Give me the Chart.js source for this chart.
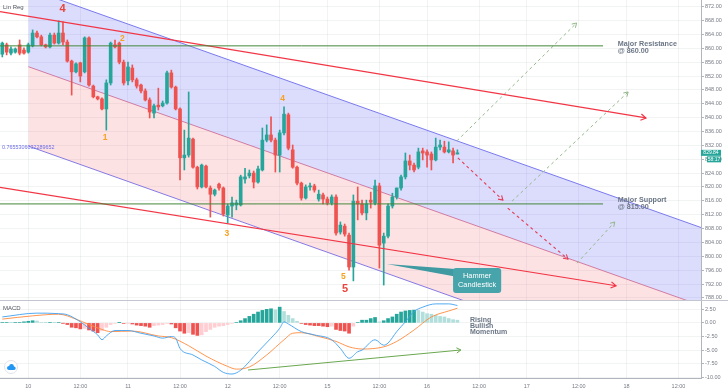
<!DOCTYPE html>
<html>
<head>
<meta charset="utf-8">
<script src="https://cdn.jsdelivr.net/npm/chart.js@4.4.0/dist/chart.umd.min.js"></script>
<style>
  html, body { margin: 0; padding: 0; background: #fff; }
  #wrap { position: relative; width: 728px; height: 391px; overflow: hidden; }
  canvas { position: absolute; left: 0; }
  #priceChart { top: 0; }
  #macdChart { top: 300px; }
</style>
</head>
<body>
<div id="wrap">
  <canvas id="priceChart" width="728" height="301"></canvas>
  <canvas id="macdChart" width="728" height="91"></canvas>
</div>
<script>
// hourly candles, index 0 = day "10" 00:00, 23 candles per session day
const firstIndex = -6;
const candleOpen = [
  858.3, 861.0, 858.6, 858.9, 861.0, 859.5,
  858.9, 860.7, 864.4, 863.3, 861.0, 860.4, 863.8, 861.5, 864.4, 861.8,
  856.3, 853.2, 855.8, 853.2, 863.0, 849.1, 846.0, 845.4, 842.5, 850.0,
  861.0, 861.5, 856.0, 850.6, 854.3, 850.9, 849.4, 847.7, 845.1, 841.3,
  843.6, 843.4, 844.2, 852.9, 848.8, 842.5, 828.4, 829.2, 833.8, 825.7,
  820.0, 826.0, 819.7, 817.9, 820.8, 819.7, 811.9, 814.5, 814.8, 814.8,
  822.3, 823.2, 824.0, 821.4, 824.9, 833.5, 835.0, 833.5, 829.2, 835.6,
  840.8, 830.7, 825.7, 821.1, 816.8, 820.0, 820.3, 816.5, 817.7, 816.5,
  815.4, 817.1, 807.0, 808.7, 806.1, 796.9, 815.9, 815.1, 812.5, 816.2,
  815.4, 820.3, 803.8, 805.8, 814.5, 817.1, 819.7, 822.9, 827.5, 826.3,
  825.7, 830.4, 830.1, 829.5, 827.8, 831.5, 831.5, 830.1, 830.4, 829.5
];
const candleHigh = [
  861.8, 861.5, 860.4, 860.1, 862.4, 860.1,
  861.5, 865.3, 865.0, 863.8, 861.2, 864.4, 864.4, 867.9, 867.6, 862.4,
  856.6, 855.8, 856.0, 863.3, 863.3, 849.4, 846.2, 845.7, 850.9, 861.8,
  862.4, 861.8, 856.6, 856.0, 855.2, 851.4, 849.7, 848.3, 845.7, 843.9,
  848.5, 844.8, 853.4, 853.7, 849.1, 842.8, 836.4, 847.4, 834.1, 826.0,
  826.6, 826.3, 820.3, 819.4, 821.1, 820.0, 815.1, 817.1, 816.2, 823.4,
  825.4, 824.9, 824.6, 826.0, 837.0, 837.9, 840.2, 834.1, 836.4, 843.1,
  841.3, 832.1, 826.0, 821.4, 820.6, 821.1, 820.8, 819.1, 818.2, 817.1,
  817.7, 817.7, 809.9, 809.3, 806.7, 817.7, 820.0, 816.2, 816.2, 818.5,
  822.0, 821.1, 806.7, 815.1, 818.2, 819.7, 823.4, 829.8, 829.2, 826.9,
  831.2, 831.2, 830.7, 830.1, 834.1, 833.5, 833.2, 833.0, 831.2, 830.7
];
const candleLow = [
  857.5, 858.1, 858.1, 858.6, 858.1, 858.3,
  858.6, 860.4, 863.0, 860.7, 860.1, 860.1, 861.2, 861.2, 861.0, 856.0,
  846.5, 852.9, 850.3, 852.9, 849.1, 845.7, 845.1, 842.2, 836.4, 849.4,
  860.1, 855.5, 849.4, 849.4, 850.3, 848.5, 847.1, 844.8, 839.9, 839.9,
  842.2, 843.1, 843.9, 848.5, 842.2, 822.0, 824.9, 828.6, 825.4, 819.4,
  819.7, 819.7, 811.3, 817.4, 819.1, 811.6, 809.6, 811.3, 813.4, 814.5,
  821.1, 822.6, 819.7, 821.1, 824.6, 833.0, 833.0, 824.3, 824.3, 835.0,
  830.7, 825.4, 820.6, 816.2, 816.5, 819.1, 818.5, 815.9, 815.1, 814.8,
  814.8, 806.1, 806.4, 805.8, 796.0, 792.9, 810.5, 811.9, 810.5, 813.9,
  814.8, 796.6, 791.7, 805.3, 813.9, 816.5, 819.1, 822.3, 824.9, 824.3,
  825.2, 827.8, 825.7, 824.9, 827.5, 830.7, 829.8, 829.8, 826.9, 829.5
];
const candleClose = [
  861.5, 858.9, 859.8, 859.8, 858.6, 858.6,
  861.0, 864.4, 863.3, 861.0, 860.4, 863.8, 861.5, 864.4, 861.8, 856.3,
  853.2, 855.5, 852.0, 863.0, 849.4, 846.0, 845.4, 842.5, 850.0, 861.5,
  860.4, 856.0, 850.0, 854.6, 850.9, 849.1, 847.7, 845.1, 841.6, 843.4,
  843.1, 844.2, 852.9, 848.8, 842.5, 828.4, 829.2, 834.1, 825.7, 820.0,
  826.3, 820.0, 817.9, 819.1, 819.7, 812.2, 814.5, 815.4, 815.4, 822.9,
  822.9, 824.0, 821.4, 825.2, 833.5, 835.0, 833.5, 829.2, 835.6, 841.0,
  831.2, 825.7, 821.1, 816.8, 820.0, 820.3, 819.1, 817.9, 816.5, 815.4,
  817.1, 806.7, 809.0, 806.4, 796.9, 815.9, 815.1, 812.5, 815.1, 815.6,
  820.3, 803.2, 805.8, 814.5, 817.1, 819.7, 822.9, 827.5, 826.3, 824.9,
  830.1, 829.8, 829.2, 827.8, 831.5, 832.1, 830.1, 830.7, 829.2, 829.84
];

// MACD panel (read at the turning points of each curve)
const macdX = [-6, 2, 7, 9, 12, 14, 16, 17, 18, 20, 23, 26, 29, 31, 33, 34, 35, 38, 40, 43,
  45, 47, 49, 51, 53, 56, 58, 59, 60, 63, 66, 70, 72, 74, 76, 77, 80, 82, 83, 85, 87, 89, 91, 94, 97, 99];
const macdLine = [1.1, 1.8, 1.7, 1.5, 0.2, -1.0, -2.2, -3.1, -2.4, -1.4, -1.4, -1.9, -2.4, -2.8, -2.5, -2.8, -4.7, -5.9, -6.8, -8.0,
  -9.1, -9.4, -8.7, -7.1, -5.3, -2.8, -1.0, 0.2, -0.2, -1.6, -2.2, -3.1, -4.7, -6.5, -5.3, -5.0, -3.1, -4.1, -3.7, -1.6, 0.2, 2.1, 2.9, 3.5, 3.5, 3.2];
const signalX = [-6, 1, 7, 11, 14, 17, 19, 24, 30, 33, 37, 41, 46, 48, 51, 55, 59, 61, 63, 67,
  71, 74, 77, 82, 85, 89, 93, 97, 99];
const signalLine = [0.7, 1.3, 1.6, 0.7, -0.3, -1.2, -1.6, -1.5, -2.4, -2.7, -4.2, -6.1, -8.0, -8.5, -8.1, -5.9, -3.1, -1.9, -1.8, -2.5,
  -3.4, -4.4, -4.8, -4.4, -3.4, -1.3, 1.1, 2.2, 2.7];
const macdHist = [
  0.1, 0.1, 0.05, 0.1, 0.1, 0.2,
  0.3, 0.4, 0.35, 0.1, 0.05, 0.1, 0.05, 0.1, -0.05, -0.3,
  -0.8, -0.9, -1.1, -1.0, -1.3, -1.5, -1.8, -1.4, -0.8, -0.3,
  -0.1, 0.05, -0.1, -0.05, -0.2, -0.4, -0.5, -0.6, -0.8, -0.5,
  -0.4, -0.3, -0.1, -0.2, -0.9, -1.5, -1.9, -1.8, -2.1, -2.3,
  -2.2, -1.6, -1.2, -0.8, -0.6, -0.5, -0.3, -0.1, 0.1, 0.4,
  0.8, 1.2, 1.6, 2.0, 2.3, 2.5, 2.6, 2.4, 2.9, 2.1,
  1.4, 0.8, 0.3, -0.1, -0.3, -0.4, -0.5, -0.5, -0.6, -0.7,
  -0.6, -1.2, -1.4, -1.5, -1.9, -0.6, 0.1, 0.5, 0.5, 0.8,
  1.0, 0.2, 0.4, 0.8, 1.1, 1.6, 2.0, 2.2, 2.3, 2.35,
  2.3, 2.0, 1.7, 1.6, 1.4, 1.2, 1.1, 0.8, 0.6, 0.5
];

// drawings
const channelX = [0, 158];
const channelUpper = [877.2, 807.05];
const channelMiddle = [854.7, 784.55];
const channelLower = [831.8, 761.65];
const upperTrendX = [-6.53, 142.5], upperTrendY = [870.55, 839.9];
const lowerTrendX = [-6.53, 135.6], lowerTrendY = [819.9, 791.5];
const levelX = [-6.53, 132.6];
const resistanceLevel = 860.7, supportLevel = 815.1;
const bearPath1X = [99.1, 109.5], bearPath1Y = [828.4, 816.2];
const bearPath2X = [110.6, 124.5], bearPath2Y = [813.9, 799.2];
const bullPath1X = [98.9, 126.5], bullPath1Y = [833.3, 867.3];
const bullPath2X = [111.6, 138.4], bullPath2Y = [815.9, 847.4];
const bullPath3X = [126.6, 135.3], bullPath3Y = [798.0, 809.9];
const macdTrendX = [50.7, 99.8], macdTrendY = [-8.66, -4.98];

// wave counts
const waveText = ['4', '2', '1', '4', '3', '5', '5'];
const waveX = [7.9, 21.7, 17.7, 58.7, 45.8, 72.7, 73.1];
const waveY = [871.2, 862.9, 834.1, 845.6, 806.4, 794.1, 790.5];

// axes
const timeTicks = [0, 12, 23, 35, 46, 58, 69, 81, 92, 104, 115, 127, 138, 150];
const timeLabels = ['10', '12:00', '11', '12:00', '12', '12:00', '15', '12:00', '16', '12:00', '17', '12:00', '18', '12:00'];
const priceTicks = [788, 792, 796, 800, 804, 808, 812, 816, 820, 824, 828, 832, 836, 840, 844, 848, 852, 856, 860, 864, 868, 872];
const macdTicks = [-10, -7.5, -5, -2.5, 0, 2.5];

const FONT = "'Liberation Sans', Arial, sans-serif";
const GRID = 'rgba(42,46,57,0.06)';
const AXIS = '#b2b5be';
const TICK_COLOR = '#787b86';
const UP = '#26a69a', DOWN = '#ef5350';
const X_MIN = -6.53, X_MAX = 155.2;

const candleIdx = candleOpen.map((_, k) => firstIndex + k);
const candleColors = candleOpen.map((o, k) => candleClose[k] >= o ? UP : DOWN);
const pts = (xs, ys) => xs.map((x, k) => ({ x, y: Array.isArray(ys) ? ys[k] : ys }));

function arrowHead(ctx, x1, y1, x2, y2, size, color, width) {
  const a = Math.atan2(y2 - y1, x2 - x1);
  ctx.save();
  ctx.strokeStyle = color;
  ctx.lineWidth = width;
  ctx.setLineDash([]);
  ctx.beginPath();
  ctx.moveTo(x2 - size * Math.cos(a - 0.55), y2 - size * Math.sin(a - 0.55));
  ctx.lineTo(x2, y2);
  ctx.lineTo(x2 - size * Math.cos(a + 0.55), y2 - size * Math.sin(a + 0.55));
  ctx.stroke();
  ctx.restore();
}

function text(ctx, str, x, y, font, color, align) {
  ctx.font = font;
  ctx.fillStyle = color;
  ctx.textAlign = align || 'left';
  ctx.textBaseline = 'middle';
  ctx.fillText(str, x, y);
}

function drawArrows(chart) {
  chart.data.datasets.forEach((ds, i) => {
    if (!ds.arrow) return;
    const d = chart.getDatasetMeta(i).data;
    const a = d[d.length - 2], b = d[d.length - 1];
    arrowHead(chart.ctx, a.x, a.y, b.x, b.y, ds.arrow, ds.borderColor, ds.borderWidth);
  });
}

function xAxis(showLabels) {
  return {
    type: 'linear', min: X_MIN, max: X_MAX, offset: false,
    afterBuildTicks: s => { s.ticks = timeTicks.map(v => ({ value: v })); },
    afterFit: s => { s.height = showLabels ? 13 : 0; s.paddingLeft = 0; s.paddingRight = 0; },
    grid: { color: GRID, drawTicks: false, offset: false },
    border: { display: showLabels, color: AXIS },
    ticks: {
      display: showLabels, padding: 5, color: TICK_COLOR, autoSkip: false, maxRotation: 0,
      font: { size: 5.5, family: FONT },
      callback: (v, i) => timeLabels[i]
    }
  };
}

function yAxis(min, max, tickList, fmt) {
  return {
    position: 'right', min, max,
    afterBuildTicks: s => { s.ticks = tickList.map(v => ({ value: v })); },
    afterFit: s => { s.width = 27; s.paddingTop = 0; s.paddingBottom = 0; },
    grid: { color: GRID, tickLength: 3, tickColor: AXIS },
    border: { color: AXIS },
    ticks: { padding: 1, color: TICK_COLOR, font: { size: 5.5, family: FONT }, callback: fmt }
  };
}

const line = (data, color, extra) => Object.assign({
  type: 'line', data, borderColor: color, borderWidth: 1, pointRadius: 0, fill: false, order: 0
}, extra || {});

// ---------- price panel ----------
const priceOverlay = {
  id: 'priceOverlay',
  afterDatasetsDraw(chart) {
    const { ctx, scales: { x, y }, chartArea } = chart;
    drawArrows(chart);

    text(ctx, 'Lin Reg', 3, 7, `6px ${FONT}`, '#50535e');
    text(ctx, '0.7655306032289652', x.getPixelForValue(-6.07), y.getPixelForValue(831.5), `5.4px ${FONT}`, '#6f6fe8');

    waveText.forEach((t, k) => {
      const major = k === 0 || k === 6;
      text(ctx, t, x.getPixelForValue(waveX[k]), y.getPixelForValue(waveY[k]),
        major ? `bold 11px ${FONT}` : `bold 8.5px ${FONT}`, major ? '#e8453c' : '#f7a11f', 'center');
    });

    const labX = x.getPixelForValue(136);
    const labFont = `bold 7.2px ${FONT}`, labColor = '#6b7685';
    text(ctx, 'Major Resistance', labX, y.getPixelForValue(861.2), labFont, labColor);
    text(ctx, '@ 860.00', labX, y.getPixelForValue(859.3), labFont, labColor);
    text(ctx, 'Major Support', labX, y.getPixelForValue(816.2), labFont, labColor);
    text(ctx, '@ 815.00', labX, y.getPixelForValue(814.3), labFont, labColor);

    // hammer callout
    const tipX = x.getPixelForValue(82.7), tipY = y.getPixelForValue(797.8);
    const bx1 = x.getPixelForValue(98.0), bx2 = x.getPixelForValue(109.1);
    const by1 = y.getPixelForValue(796.6), by2 = y.getPixelForValue(789.4);
    ctx.save();
    ctx.fillStyle = '#3f9aa2';
    ctx.beginPath();
    ctx.moveTo(tipX, tipY);
    ctx.lineTo(bx1 + 2, y.getPixelForValue(796.3));
    ctx.lineTo(bx1 + 2, y.getPixelForValue(794.2));
    ctx.closePath();
    ctx.fill();
    ctx.fillStyle = '#48a4ab';
    ctx.beginPath();
    ctx.roundRect(bx1, by1, bx2 - bx1, by2 - by1, 3);
    ctx.fill();
    ctx.restore();
    const cx = (bx1 + bx2) / 2;
    text(ctx, 'Hammer', cx, by1 + 8, `7.4px ${FONT}`, '#ffffff', 'center');
    text(ctx, 'Candlestick', cx, by1 + 16.5, `7.4px ${FONT}`, '#ffffff', 'center');

    // last price tags
    const last = candleClose[candleClose.length - 1];
    const py = y.getPixelForValue(last);
    ctx.fillStyle = UP;
    ctx.fillRect(chartArea.right, py - 3, 20, 6);
    ctx.fillRect(chartArea.right + 6, py + 3.5, 14, 6);
    text(ctx, last.toFixed(2), chartArea.right + 10, py, `5px ${FONT}`, '#ffffff', 'center');
    text(ctx, '58:17', chartArea.right + 13, py + 6.5, `5px ${FONT}`, '#ffffff', 'center');
  }
};

new Chart(document.getElementById('priceChart'), {
  type: 'bar',
  data: {
    datasets: [
      line(pts(channelX, channelUpper), '#7a7aee', { fill: '+1', backgroundColor: 'rgba(110,110,245,0.24)', order: 10 }),
      line(pts(channelX, channelMiddle), '#df7e96', { fill: '+1', backgroundColor: 'rgba(245,110,120,0.2)', order: 10 }),
      line(pts(channelX, channelLower), '#7a7aee', { order: 10 }),
      {
        type: 'bar', grouped: false, order: 5, barThickness: 1, borderWidth: 0,
        data: candleIdx.map((x, k) => ({ x, y: [candleLow[k], candleHigh[k]] })),
        backgroundColor: candleColors
      },
      {
        type: 'bar', grouped: false, order: 4, barThickness: 3, borderWidth: 0, minBarLength: 1,
        data: candleIdx.map((x, k) => ({ x, y: [candleOpen[k], candleClose[k]] })),
        backgroundColor: candleColors
      },
      line(pts(levelX, resistanceLevel), '#43873a'),
      line(pts(levelX, supportLevel), '#43873a'),
      line(pts(upperTrendX, upperTrendY), '#f23645', { borderWidth: 1.2, arrow: 6 }),
      line(pts(lowerTrendX, lowerTrendY), '#f23645', { borderWidth: 1.2, arrow: 6 }),
      line(pts(bearPath1X, bearPath1Y), '#e2405a', { borderWidth: 1.1, borderDash: [3, 3], arrow: 5 }),
      line(pts(bearPath2X, bearPath2Y), '#e2405a', { borderWidth: 1.1, borderDash: [3, 3], arrow: 5 }),
      line(pts(bullPath1X, bullPath1Y), '#93b98a', { borderDash: [3, 3], arrow: 5 }),
      line(pts(bullPath2X, bullPath2Y), '#93b98a', { borderDash: [3, 3], arrow: 5 }),
      line(pts(bullPath3X, bullPath3Y), '#93b98a', { borderDash: [3, 3], arrow: 5 })
    ]
  },
  options: {
    responsive: false, animation: false, events: [],
    layout: { padding: 0, autoPadding: false },
    plugins: { legend: { display: false }, tooltip: { enabled: false } },
    scales: {
      x: xAxis(false),
      y: yAxis(787.1, 873.93, priceTicks, v => v.toFixed(2))
    }
  },
  plugins: [priceOverlay]
});

// ---------- MACD panel ----------
const histColors = macdHist.map((v, k) => {
  const prev = k > 0 ? macdHist[k - 1] : v;
  if (v >= 0) return v >= prev ? '#26a69a' : '#b2dfdb';
  return v <= prev ? '#ef5350' : '#ffcdd2';
});

const macdOverlay = {
  id: 'macdOverlay',
  afterDatasetsDraw(chart) {
    const { ctx, scales: { x, y } } = chart;
    drawArrows(chart);
    ctx.save();
    ctx.strokeStyle = '#c3c6ce';
    ctx.lineWidth = 1;
    ctx.beginPath();
    ctx.moveTo(0, 0.5);
    ctx.lineTo(chart.width, 0.5);
    ctx.stroke();
    ctx.restore();
    text(ctx, 'MACD', 3, 8, `6px ${FONT}`, '#50535e');
    const rx = x.getPixelForValue(101.9);
    const f = `bold 7px ${FONT}`, c = '#6b7685';
    text(ctx, 'Rising', rx, y.getPixelForValue(0.53), f, c);
    text(ctx, 'Bullish', rx, y.getPixelForValue(-0.57), f, c);
    text(ctx, 'Momentum', rx, y.getPixelForValue(-1.67), f, c);

    // small cloud badge
    ctx.save();
    ctx.fillStyle = '#ffffff';
    ctx.strokeStyle = '#dfe2ea';
    ctx.beginPath();
    ctx.arc(11, 67, 6.5, 0, Math.PI * 2);
    ctx.fill();
    ctx.stroke();
    ctx.fillStyle = '#2196f3';
    ctx.beginPath();
    ctx.arc(9, 68, 2, 0, Math.PI * 2);
    ctx.arc(11.5, 66.5, 2.4, 0, Math.PI * 2);
    ctx.arc(14, 68.3, 1.7, 0, Math.PI * 2);
    ctx.fill();
    ctx.fillRect(9, 68, 5, 2);
    ctx.restore();
  }
};

new Chart(document.getElementById('macdChart'), {
  type: 'bar',
  data: {
    datasets: [
      {
        type: 'bar', grouped: false, order: 5, barThickness: 3, borderWidth: 0,
        data: candleIdx.map((x, k) => ({ x, y: macdHist[k] })),
        backgroundColor: histColors
      },
      line(pts(signalX, signalLine), '#ff8a3d', { borderWidth: 0.9, cubicInterpolationMode: 'monotone', order: 2 }),
      line(pts(macdX, macdLine), '#3fa0f0', { borderWidth: 0.9, cubicInterpolationMode: 'monotone', order: 1 }),
      line(pts(macdTrendX, macdTrendY), '#6aa84f', { borderWidth: 1, arrow: 5 })
    ]
  },
  options: {
    responsive: false, animation: false, events: [],
    layout: { padding: { top: 1 }, autoPadding: false },
    plugins: { legend: { display: false }, tooltip: { enabled: false } },
    scales: {
      x: xAxis(true),
      y: yAxis(-10.13, 4.03, macdTicks, v => v.toFixed(2))
    }
  },
  plugins: [macdOverlay]
});
</script>
</body>
</html>
